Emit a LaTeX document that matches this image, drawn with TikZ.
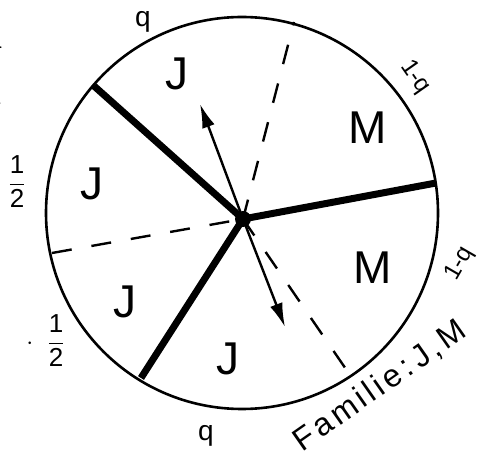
\documentclass[tikz,border=0pt]{standalone}
\usepackage{fontspec}
\setsansfont{Liberation Sans}
\usepackage{amsmath}
\usetikzlibrary{arrows.meta}

\tikzset{
  rim/.style={line width=2.6pt},
  spoke/.style={line width=7pt},
  divide/.style={line width=2.4pt, dash pattern=on 20pt off 20pt},
  pointer/.style={line width=2.4pt, -{Latex[length=24pt,width=13pt]}},
  sector/.style={font=\sffamily\fontsize{46}{46}\selectfont},
  prob/.style={font=\sffamily\fontsize{28}{28}\selectfont},
  small/.style={font=\sffamily\fontsize{24}{24}\selectfont},
  half/.style={font=\sffamily\fontsize{26}{26}\selectfont},
}
\newcommand{\onehalf}{$\dfrac{\textsf{1}}{\textsf{2}}$}

\begin{document}
\begin{tikzpicture}[x=1pt, y=-1pt]
    \useasboundingbox (0,0) rectangle (477,470);
    % cut off text at the left margin
    \node[anchor=east, font=\bfseries\fontsize{36}{36}\selectfont] (frag1) at (6,40) {a};
    \node[anchor=east, font=\bfseries\fontsize{36}{36}\selectfont] (frag2) at (6,92) {d};

    % wheel
    \node[draw, rim, circle, minimum size=392pt, inner sep=0pt] (wheel) at (242,213) {};
    \coordinate (hub) at (243,219);
    \coordinate (rimUL) at (94,86);
    \coordinate (rimR) at (436,183);
    \coordinate (rimLL) at (141,378);
    \coordinate (rimT) at (294,22);
    \coordinate (rimL) at (52,253);
    \coordinate (rimLR) at (350,375);
    \coordinate (tipU) at (200,104);
    \coordinate (tipD) at (285,327);

    \draw[spoke] (hub) -- (rimUL);
    \draw[spoke] (hub) -- (rimR);
    \draw[spoke] (hub) -- (rimLL);
    \draw[divide] (hub) -- (rimT);
    \draw[divide] (rimL) -- (hub);
    \draw[divide] (hub) -- (rimLR);
    \draw[pointer] (hub) -- (tipU);
    \draw[pointer] (hub) -- (tipD);
    \fill (hub) circle (8pt);

    % sector labels
    \node[sector] (s1) at (177,74) {J};
    \node[sector] (s2) at (368,128) {M};
    \node[sector] (s3) at (92,184) {J};
    \node[sector] (s4) at (125,302) {J};
    \node[sector] (s5) at (228,359) {J};
    \node[sector] (s6) at (373,268) {M};

    % probabilities
    \node[prob] (p1) at (143,22) {q};
    \node[small, rotate=-55] (p2) at (415,77) {1-q};
    \node[small, rotate=60] (p3) at (460,264) {1-q};
    \node[prob] (p4) at (206,436) {q};
    \node[half] (p5) at (17,182) {\onehalf};
    \node[half, anchor=east] (p6) at (68,341) {$\cdot$\;\;\onehalf};

    \node[font=\sffamily\fontsize{32}{32}\selectfont\addfontfeature{LetterSpace=12}, rotate=35] (fam) at (380,386) {Familie:\,J,M};
\end{tikzpicture}
\end{document}
